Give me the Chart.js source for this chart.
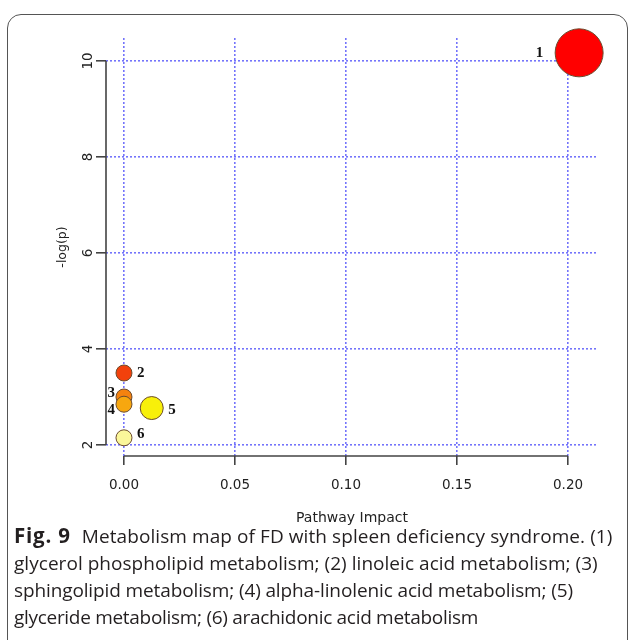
<!DOCTYPE html>
<html>
<head>
<meta charset="utf-8">
<script src="https://cdn.jsdelivr.net/npm/chart.js@4/dist/chart.umd.min.js"></script>
<style>
  html, body { margin: 0; padding: 0; background: #fff; }
  body { width: 629px; height: 640px; overflow: hidden; position: relative; }
  #frame { position: absolute; left: 7px; top: 14px; width: 621px; height: 700px;
           border: 1.5px solid #555; border-radius: 14px; box-sizing: border-box; }
  #wrap { position: absolute; left: 0; top: 0; width: 629px; height: 530px; }
  #caption { position: absolute; left: 14px; top: 522px; font-family: 'Open Sans', sans-serif;
             font-size: 19px; line-height: 27px; color: #231f20; white-space: nowrap; }
  #caption b { font-weight: 700; font-size: 20.5px; letter-spacing: 0.8px; margin-right: 11px; }
  #caption .l1 { letter-spacing: 0.08px; }
  #caption .l2 { letter-spacing: 0.04px; }
  #caption .l3 { letter-spacing: -0.12px; }
  #caption .l4 { letter-spacing: -0.3px; }
</style>
</head>
<body>
<div id="frame"></div>
<div id="wrap"><canvas id="chart" width="629" height="530"></canvas></div>
<div id="caption">
  <div class="l1"><b>Fig. 9</b>Metabolism map of FD with spleen deficiency syndrome. (1)</div>
  <div class="l2">glycerol phospholipid metabolism; (2) linoleic acid metabolism; (3)</div>
  <div class="l3">sphingolipid metabolism; (4) alpha-linolenic acid metabolism; (5)</div>
  <div class="l4">glyceride metabolism; (6) arachidonic acid metabolism</div>
</div>
<script>
// Pathway numbers, impact (x) and -log(p) (y)
const pathwayIds = ['1', '2', '3', '4', '5', '6'];
const pathwayImpact = [0.205, 0, 0, 0, 0.0125, 0];
const negLogP = [10.17, 3.5, 3.0, 2.85, 2.77, 2.15];
const bubbleRadius = [24, 8, 8, 8, 11.5, 8];
const bubbleColors = ['#ff0000', '#f2410c', '#f4820f', '#f7a70f', '#f8f00a', '#fbf79a'];
const xTicks = [0, 0.05, 0.10, 0.15, 0.20];
const yTicks = [2, 4, 6, 8, 10];

// label placement around each bubble: side and small vertical nudge
const labelSide = ['left', 'right', 'left', 'left', 'right', 'right'];
const labelNudgeY = [0, 0, -4, 6, 2, -4];

const gridBlue = '#7474fb';
const axisGrey = '#444';
const tickFont = { family: 'DejaVu Sans', size: 13.5 };

const axisLinesPlugin = {
  id: 'axisLines',
  afterDraw(chart) {
    const { ctx, chartArea, scales } = chart;
    const xs = scales.x, ys = scales.y;
    ctx.save();
    ctx.strokeStyle = axisGrey;
    ctx.lineWidth = 1.6;
    ctx.beginPath();
    ctx.moveTo(xs.getPixelForValue(xTicks[0]), chartArea.bottom);
    ctx.lineTo(xs.getPixelForValue(xTicks[xTicks.length - 1]), chartArea.bottom);
    ctx.moveTo(chartArea.left, ys.getPixelForValue(yTicks[0]));
    ctx.lineTo(chartArea.left, ys.getPixelForValue(yTicks[yTicks.length - 1]));
    ctx.stroke();
    // rotated y tick labels
    ctx.fillStyle = '#222';
    ctx.font = `${tickFont.size}px "${tickFont.family}"`;
    ctx.textAlign = 'center';
    ctx.textBaseline = 'middle';
    yTicks.forEach(v => {
      const y = ys.getPixelForValue(v);
      ctx.save();
      ctx.translate(chartArea.left - 18, y);
      ctx.rotate(-Math.PI / 2);
      ctx.fillText(String(v), 0, 0);
      ctx.restore();
    });
    ctx.restore();
  }
};

const bubbleLabelsPlugin = {
  id: 'bubbleLabels',
  afterDatasetsDraw(chart) {
    const { ctx } = chart;
    const meta = chart.getDatasetMeta(0);
    ctx.save();
    ctx.fillStyle = '#111';
    ctx.font = 'bold 15px "Liberation Serif"';
    ctx.textBaseline = 'middle';
    meta.data.forEach((el, i) => {
      const r = el.options.radius;
      const left = labelSide[i] === 'left';
      ctx.textAlign = left ? 'right' : 'left';
      const x = left ? el.x - r - (i === 0 ? 12 : 1) : el.x + r + 5;
      ctx.fillText(pathwayIds[i], x, el.y + labelNudgeY[i]);
    });
    ctx.restore();
  }
};

new Chart(document.getElementById('chart'), {
  type: 'bubble',
  data: {
    datasets: [{
      data: pathwayImpact.map((x, i) => ({ x, y: negLogP[i], r: bubbleRadius[i] })),
      backgroundColor: bubbleColors,
      borderColor: '#6b4b2e',
      borderWidth: 1,
      hoverRadius: 0,
      clip: false
    }]
  },
  options: {
    responsive: false,
    animation: false,
    events: [],
    layout: { padding: { top: 38, right: 31, bottom: 0, left: 0 } },
    plugins: { legend: { display: false }, tooltip: { enabled: false } },
    scales: {
      x: {
        type: 'linear',
        min: -0.0081,
        max: 0.2135,
        afterBuildTicks: s => { s.ticks = xTicks.map(v => ({ value: v })); },
        afterFit: s => { s.height = 74; },
        grid: { color: gridBlue, lineWidth: 1.6, tickLength: 9, tickColor: axisGrey,
                tickWidth: 1.6, tickBorderDash: [] },
        border: { display: false, dash: [2, 2] },
        ticks: { callback: v => v.toFixed(2), font: tickFont, color: '#222', padding: 12,
                 maxRotation: 0, autoSkip: false },
        title: { display: true, text: 'Pathway Impact', color: '#222',
                 font: { family: 'DejaVu Sans', size: 14 }, padding: { top: 0, bottom: 3 } }
      },
      y: {
        type: 'linear',
        min: 1.771,
        max: 10.479,
        afterBuildTicks: s => { s.ticks = yTicks.map(v => ({ value: v })); },
        afterFit: s => { s.width = 106; },
        grid: { color: gridBlue, lineWidth: 1.6, tickLength: 10, tickColor: axisGrey,
                tickWidth: 1.6, tickBorderDash: [] },
        border: { display: false, dash: [2, 2] },
        ticks: { display: false },
        title: { display: true, text: '-log(p)', color: '#222',
                 font: { family: 'DejaVu Sans', size: 12.5 }, padding: { top: 55, bottom: 0 } }
      }
    }
  },
  plugins: [axisLinesPlugin, bubbleLabelsPlugin]
});
</script>
</body>
</html>
